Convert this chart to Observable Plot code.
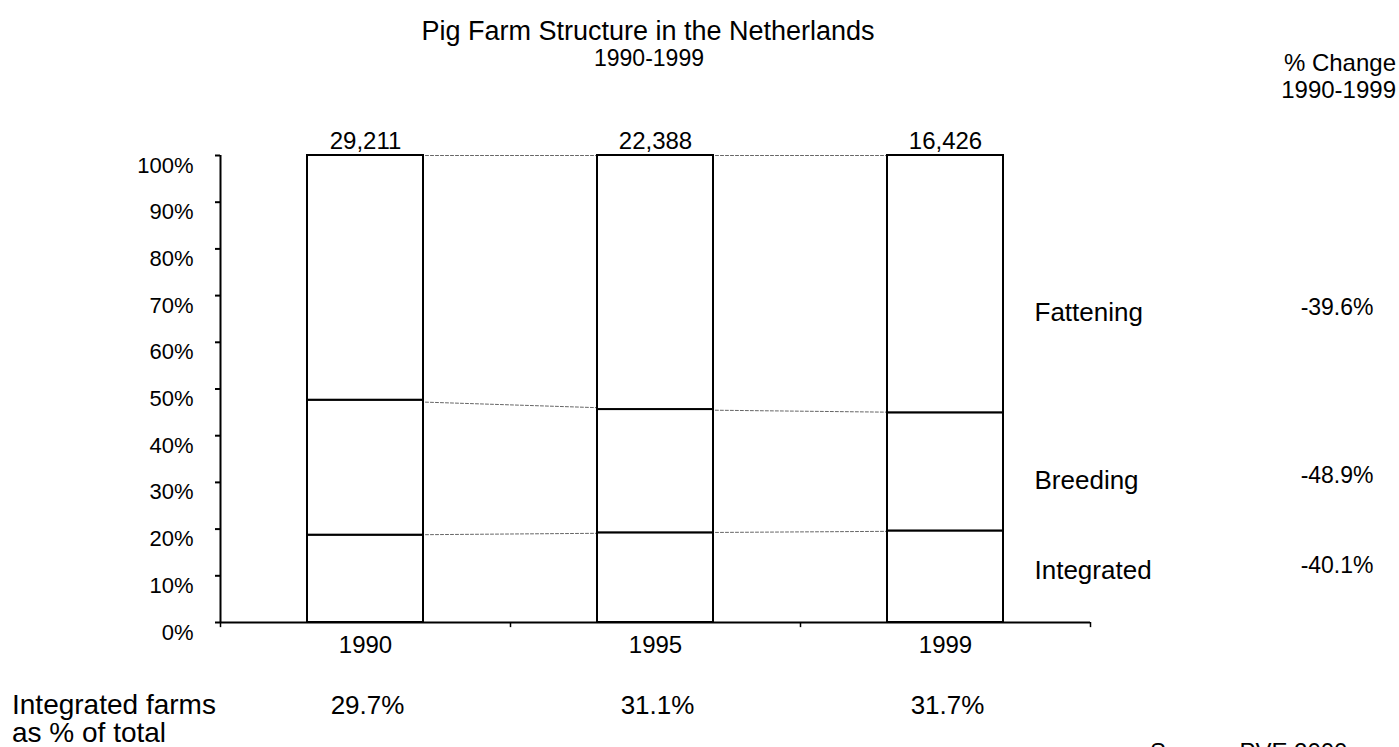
<!DOCTYPE html>
<html><head><meta charset="utf-8">
<script src="https://cdn.jsdelivr.net/npm/d3@7"></script>
<script src="https://cdn.jsdelivr.net/npm/@observablehq/plot@0.6"></script>
<style>
body{margin:0;background:#fff;font-family:"Liberation Sans",Arial,sans-serif;}
#wrap{position:relative;width:1399px;height:747px;overflow:hidden;background:#fff;}
#chart{position:absolute;left:0;top:0;}
.t{position:absolute;color:#000;white-space:nowrap;}
</style></head><body><div id="wrap">
<div id="chart"></div>
<div class="t" style="left:0;width:1296px;top:18px;text-align:center;font-size:27px;line-height:27px;">Pig Farm Structure in the Netherlands</div>
<div class="t" style="left:0;width:1298px;top:47px;text-align:center;font-size:23px;line-height:23px;">1990-1999</div>
<div class="t" style="right:3px;top:49px;text-align:right;font-size:24px;line-height:27px;">% Change<br>1990-1999</div>
<div class="t" style="left:12px;top:691px;font-size:28px;line-height:28px;">Integrated farms<br>as % of total</div>
<div class="t" style="left:1150px;top:740px;font-size:24px;line-height:24px;">Source: PVE 2000</div>
</div>
<script>
const years = ["1990", "1995", "1999"];
const types = ["Integrated", "Breeding", "Fattening"];
const totals = [29211, 22388, 16426];
const integrated = [18.7, 19.2, 19.6];
const breeding = [28.9, 26.4, 25.3];
const fattening = [52.4, 54.4, 55.1];
const changes = [-40.1, -48.9, -39.6];        // Integrated, Breeding, Fattening
const integratedShare = [29.7, 31.1, 31.7];
const yTicks = [0, 10, 20, 30, 40, 50, 60, 70, 80, 90, 100];

const series = {Integrated: integrated, Breeding: breeding, Fattening: fattening};
const table = [];
years.forEach((y, i) => types.forEach(t => table.push({year: y, type: t, value: series[t][i]})));

// cumulative boundaries for the dotted connector lines
const levels = [];
years.forEach((y, i) => {
  let c = 0;
  types.forEach(t => { c += series[t][i]; levels.push({year: y, level: t, value: c}); });
});

const yearRows = years.map((y, i) => ({year: y, total: totals[i], share: integratedShare[i]}));
const labelY = {Integrated: 11.1, Breeding: 30.4, Fattening: 66.4};
const segRows = types.map((t, i) => ({type: t, change: changes[i]}));

const chart = Plot.plot({
  width: 1399, height: 747,
  marginLeft: 220, marginRight: 309, marginTop: 155, marginBottom: 125,
  style: {fontFamily: "'Liberation Sans', Arial, sans-serif", fontSize: "22px", color: "#000", background: "#fff", overflow: "visible"},
  x: {domain: years, paddingInner: 0.6, paddingOuter: 0.3, axis: null},
  y: {domain: [0, 100], axis: null},
  marks: [
    Plot.line(levels, {x: "year", y: "value", z: "level", stroke: "#666", strokeWidth: 1, strokeDasharray: "3,2"}),
    Plot.rectY(table, Plot.stackY({x: "year", y: "value", fill: "white", stroke: "black", strokeWidth: 2})),
    // axes
    Plot.ruleX([years[0]], {dx: -145, y1: 0, y2: 100, stroke: "black", strokeWidth: 2}),
    Plot.ruleY([0], {stroke: "black", strokeWidth: 2}),
    Plot.axisY({ticks: yTicks, tickSize: 5, tickFormat: () => "", label: null, strokeWidth: 2}),
    Plot.text(yTicks, {y: d => d, text: d => d + "%", frameAnchor: "left", dx: -27, dy: 10, textAnchor: "end", fontSize: 22}),
    Plot.ruleX(years, {x: d => d, dx: -145, y1: 0, y2: -1.1, stroke: "black", strokeWidth: 1.5}),
    Plot.ruleX([years[years.length - 1]], {x: d => d, dx: 145, y1: 0, y2: -1.1, stroke: "black", strokeWidth: 1.5}),
    Plot.text(yearRows, {x: "year", text: "year", frameAnchor: "bottom", lineAnchor: "middle", dy: 23, fontSize: 24}),
    // totals on top of the bars
    Plot.text(yearRows, {x: "year", y: 100, text: d => d.total.toLocaleString("en-US"), lineAnchor: "bottom", dy: -7, fontSize: 24}),
    // integrated share under the chart
    Plot.text(yearRows, {x: "year", text: d => d.share.toFixed(1) + "%", frameAnchor: "bottom", lineAnchor: "middle", dy: 83, dx: 2, fontSize: 26}),
    // segment labels & changes
    Plot.text(segRows, {y: d => labelY[d.type], text: "type", frameAnchor: "right", dx: -56, textAnchor: "start", fontSize: 26}),
    Plot.text(segRows, {y: d => labelY[d.type], text: d => d.change.toFixed(1) + "%", frameAnchor: "right", dx: 283, dy: -5, textAnchor: "end", fontSize: 23})
  ]
});
document.getElementById("chart").appendChild(chart);
</script>
</body></html>
